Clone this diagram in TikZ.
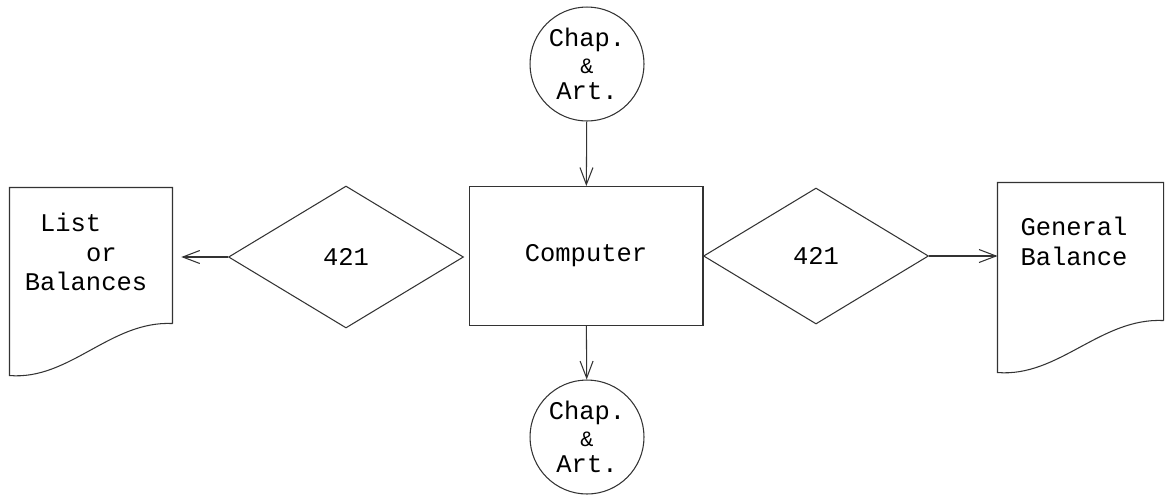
\documentclass[tikz,border=0pt]{standalone}
\usepackage{fontspec}
\setmonofont{Liberation Mono}
\usetikzlibrary{arrows.meta, shapes.geometric, calc}

\begin{document}
\begin{tikzpicture}[
    x=0.02cm, y=-0.02cm,
    font=\ttfamily\fontsize{14.5}{17}\selectfont,
    line width=0.6pt,
    proc/.style={draw=black!80, minimum width=4.68cm, minimum height=2.78cm},
    conn/.style={draw=black!80, circle, minimum size=2.28cm, inner sep=0pt,
                 align=center, font=\ttfamily\fontsize{14.5}{15}\selectfont},
    dec/.style={draw=black!80, diamond, inner sep=0pt,
                minimum width=4.6cm, minimum height=2.78cm},
    docbody/.style={inner sep=0pt},
    doctext/.style={align=left, inner sep=0pt},
    arr/.style={-{Straight Barb[length=3.4mm,width=2.6mm]}, draw=black!80},
  ]
  \useasboundingbox (0,0) rectangle (1165,495);

  % centre column
  \node[proc] (comp)    at (586,256) {Computer};
  \node[conn] (chapin)  at (587,64)  {Chap.\\{\fontsize{12.5}{15}\selectfont\&}\\Art.};
  \node[conn] (chapout) at (587,437) {Chap.\\{\fontsize{12.5}{15}\selectfont\&}\\Art.};

  % decisions either side of the computer
  \node[dec, minimum width=4.7cm, minimum height=2.84cm] (lsel) at (346,257) {421};
  \node[dec, minimum width=4.5cm, minimum height=2.72cm] (gsel) at (816,256) {421};

  % documents (body part only, outline drawn below)
  \node[docbody, minimum width=3.24cm, minimum height=2.7cm] (lstdoc) at (91,255.5) {};
  \node[docbody, minimum width=3.3cm, minimum height=2.74cm] (gendoc) at (1080.5,251.5) {};
  \node[doctext] (lsttext) at (86,252)
    {\phantom{B}List\\\phantom{Bala}or\\Balances};
  \node[doctext] (gentext) at (1074,241) {General\\Balance};

  \draw[black!80] (lstdoc.south east) -- (lstdoc.north east) -- (lstdoc.north west)
        -- ($(lstdoc.south west)+(0,52)$)
        .. controls ($(lstdoc.south west)+(60,57)$) and ($(lstdoc.south east)+(-62,-3)$)
        .. (lstdoc.south east);
  \draw[black!80] (gendoc.south east) -- (gendoc.north east) -- (gendoc.north west)
        -- ($(gendoc.south west)+(0,52)$)
        .. controls ($(gendoc.south west)+(61,57)$) and ($(gendoc.south east)+(-63,-3)$)
        .. (gendoc.south east);

  % flow
  \draw[arr] (chapin) -- (comp);
  \draw[arr] (comp) -- (chapout);
  \draw[arr, shorten >=5pt] (lsel.west) -- (lsel.west -| lstdoc.east);
  \draw[arr] (gsel.east) -- (gsel.east -| gendoc.west);

\end{tikzpicture}
\end{document}
